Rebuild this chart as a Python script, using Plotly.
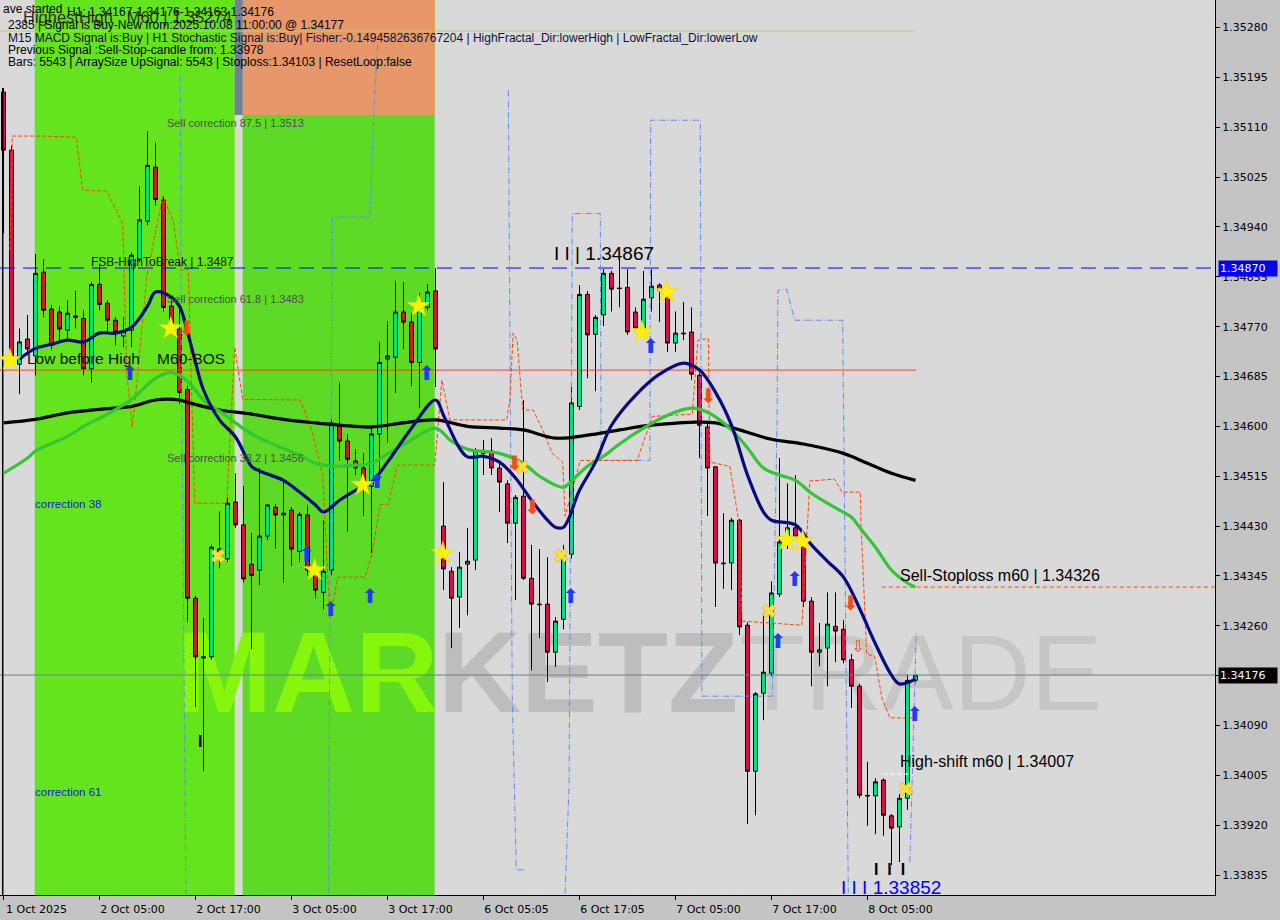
import plotly.graph_objects as go

# ---------------- data ----------------
tick_idx = [0, 12, 24, 36, 48, 60, 72, 84, 96, 108]
tick_text = ["1 Oct 2025", "2 Oct 05:00", "2 Oct 17:00", "3 Oct 05:00", "3 Oct 17:00",
             "6 Oct 05:05", "6 Oct 17:05", "7 Oct 05:00", "7 Oct 17:00", "8 Oct 05:00"]
price_ticks = [1.33835, 1.33920, 1.34005, 1.34090, 1.34175, 1.34260, 1.34345, 1.34430, 1.34515,
               1.34600, 1.34685, 1.34770, 1.34855, 1.34940, 1.35025, 1.35110, 1.35195, 1.35280]

open_ = [1.35170, 1.35071, 1.34706, 1.34749, 1.34720, 1.34863, 1.34800, 1.34795, 1.34764, 1.34786,
         1.34784, 1.34698, 1.34842, 1.34810, 1.34781, 1.34754, 1.34764, 1.34885, 1.34950, 1.35042,
         1.34986, 1.34805, 1.34766, 1.34663, 1.34307, 1.34205, 1.34207, 1.34391, 1.34374, 1.34471,
         1.34432, 1.34365, 1.34355, 1.34413, 1.34462, 1.34449, 1.34457, 1.34387, 1.34449, 1.34355,
         1.34317, 1.34355, 1.34602, 1.34575, 1.34541, 1.34529, 1.34498, 1.34587, 1.34715, 1.34718,
         1.34795, 1.34778, 1.34709, 1.34803, 1.34831, 1.34430, 1.34353, 1.34309, 1.34365, 1.34372,
         1.34554, 1.34558, 1.34529, 1.34502, 1.34435, 1.34481, 1.34341, 1.34297, 1.34297, 1.34215,
         1.34271, 1.34382, 1.34634, 1.34825, 1.34757, 1.34790, 1.34861, 1.34836, 1.34837, 1.34795,
         1.34767, 1.34819, 1.34841, 1.34829, 1.34742, 1.34759, 1.34761, 1.34687, 1.34599, 1.34531,
         1.34367, 1.34367, 1.34440, 1.34261, 1.34012, 1.34145, 1.34179, 1.34314, 1.34413, 1.34427,
         1.34413, 1.34302, 1.34215, 1.34222, 1.34259, 1.34254, 1.34202, 1.34157, 1.33971, 1.33970,
         1.33997, 1.33936, 1.33917, 1.33966, 1.34167]
high = [1.35177, 1.35079, 1.34767, 1.34790, 1.34894, 1.34885, 1.34807, 1.34805, 1.34815, 1.34831,
        1.34798, 1.34846, 1.34875, 1.34815, 1.34786, 1.34786, 1.34897, 1.35009, 1.35103, 1.35084,
        1.34992, 1.34815, 1.34805, 1.34670, 1.34311, 1.34273, 1.34398, 1.34455, 1.34479, 1.34520,
        1.34498, 1.34418, 1.34529, 1.34467, 1.34467, 1.34507, 1.34462, 1.34454, 1.34466, 1.34362,
        1.34440, 1.34612, 1.34675, 1.34587, 1.34561, 1.34554, 1.34599, 1.34744, 1.34779, 1.34848,
        1.34846, 1.34793, 1.34827, 1.34842, 1.34870, 1.34505, 1.34360, 1.34386, 1.34427, 1.34563,
        1.34577, 1.34580, 1.34542, 1.34508, 1.34483, 1.34645, 1.34398, 1.34391, 1.34377, 1.34275,
        1.34398, 1.34667, 1.34841, 1.34831, 1.34790, 1.34868, 1.34865, 1.34885, 1.34868, 1.34803,
        1.34865, 1.34868, 1.34844, 1.34839, 1.34796, 1.34812, 1.34803, 1.34692, 1.34604, 1.34532,
        1.34452, 1.34444, 1.34442, 1.34266, 1.34147, 1.34282, 1.34336, 1.34546, 1.34503, 1.34517,
        1.34418, 1.34309, 1.34265, 1.34317, 1.34317, 1.34270, 1.34212, 1.34161, 1.34028, 1.34000,
        1.34000, 1.33939, 1.33973, 1.34177, 1.34176]
low = [1.34929, 1.34709, 1.34655, 1.34721, 1.34687, 1.34786, 1.34730, 1.34745, 1.34749, 1.34767,
       1.34687, 1.34675, 1.34798, 1.34761, 1.34738, 1.34735, 1.34735, 1.34880, 1.34943, 1.34977,
       1.34796, 1.34764, 1.34638, 1.34266, 1.34121, 1.34012, 1.34202, 1.34358, 1.34369, 1.34427,
       1.34334, 1.34220, 1.34329, 1.34406, 1.34392, 1.34334, 1.34362, 1.34369, 1.34346, 1.34307,
       1.34288, 1.34346, 1.34542, 1.34421, 1.34517, 1.34447, 1.34384, 1.34508, 1.34573, 1.34657,
       1.34732, 1.34669, 1.34631, 1.34798, 1.34667, 1.34321, 1.34222, 1.34256, 1.34278, 1.34355,
       1.34517, 1.34517, 1.34454, 1.34401, 1.34304, 1.34338, 1.34184, 1.34239, 1.34164, 1.34190,
       1.34254, 1.34375, 1.34628, 1.34682, 1.34660, 1.34771, 1.34796, 1.34803, 1.34756, 1.34761,
       1.34756, 1.34796, 1.34778, 1.34727, 1.34727, 1.34747, 1.34679, 1.34546, 1.34447, 1.34292,
       1.34323, 1.34321, 1.34244, 1.33922, 1.33937, 1.34099, 1.34174, 1.34309, 1.34391, 1.34406,
       1.34292, 1.34157, 1.34191, 1.34157, 1.34198, 1.34196, 1.34120, 1.33966, 1.33919, 1.33905,
       1.33902, 1.33852, 1.33857, 1.33946, 1.34163]
close = [1.35071, 1.34720, 1.34744, 1.34732, 1.34861, 1.34798, 1.34738, 1.34766, 1.34793, 1.34788,
         1.34698, 1.34842, 1.34808, 1.34781, 1.34761, 1.34762, 1.34892, 1.34952, 1.35045, 1.34987,
         1.34803, 1.34776, 1.34658, 1.34307, 1.34207, 1.34207, 1.34394, 1.34374, 1.34469, 1.34432,
         1.34340, 1.34346, 1.34413, 1.34466, 1.34449, 1.34452, 1.34391, 1.34450, 1.34355, 1.34321,
         1.34353, 1.34606, 1.34575, 1.34544, 1.34529, 1.34502, 1.34587, 1.34709, 1.34720, 1.34795,
         1.34778, 1.34709, 1.34803, 1.34829, 1.34732, 1.34357, 1.34307, 1.34360, 1.34370, 1.34559,
         1.34559, 1.34529, 1.34505, 1.34435, 1.34479, 1.34341, 1.34297, 1.34296, 1.34215, 1.34268,
         1.34379, 1.34640, 1.34825, 1.34756, 1.34786, 1.34861, 1.34834, 1.34835, 1.34761, 1.34767,
         1.34817, 1.34839, 1.34832, 1.34742, 1.34759, 1.34758, 1.34689, 1.34602, 1.34529, 1.34367,
         1.34366, 1.34440, 1.34258, 1.34012, 1.34144, 1.34181, 1.34316, 1.34403, 1.34427, 1.34411,
         1.34302, 1.34215, 1.34219, 1.34263, 1.34251, 1.34202, 1.34157, 1.33971, 1.33970, 1.33994,
         1.33937, 1.33915, 1.33966, 1.34167, 1.34176]

navy_idx = [2, 4, 6, 8, 10, 12, 14, 16, 18, 19, 21, 22, 23, 24, 25, 27, 29, 31, 32, 35,
            37, 39, 40, 42, 44, 46, 48, 51, 54, 55, 57, 58, 60, 62, 64, 66, 68, 69, 70, 72,
            74, 76, 79, 82, 85, 87, 89, 91, 93, 95, 96, 99, 101, 103, 105, 107, 109, 111, 112, 114]
navy_val = [1.34715, 1.34733, 1.34740, 1.34747, 1.34744, 1.34759, 1.34759, 1.34769, 1.34805, 1.34829,
            1.34820, 1.34805, 1.34761, 1.34709, 1.34662, 1.34611, 1.34582, 1.34532, 1.34524, 1.34508,
            1.34488, 1.34466, 1.34454, 1.34474, 1.34491, 1.34505, 1.34539, 1.34597, 1.34645, 1.34619,
            1.34563, 1.34548, 1.34549, 1.34539, 1.34512, 1.34474, 1.34440, 1.34428, 1.34428, 1.34491,
            1.34539, 1.34602, 1.34653, 1.34689, 1.34708, 1.34696, 1.34658, 1.34602, 1.34517, 1.34454,
            1.34440, 1.34432, 1.34398, 1.34370, 1.34343, 1.34290, 1.34229, 1.34176, 1.34161, 1.34169]

green_idx = [0, 3, 4, 8, 10, 13, 16, 19, 21, 23, 25, 27, 29, 31, 34, 37, 39, 41, 44, 46,
             48, 51, 54, 56, 58, 62, 65, 67, 70, 71, 73, 75, 77, 80, 83, 86, 88, 91, 93, 95,
             97, 99, 101, 104, 106, 107, 109, 111, 113, 114]
green_val = [1.34520, 1.34546, 1.34558, 1.34583, 1.34600, 1.34621, 1.34646, 1.34682, 1.34692, 1.34677,
             1.34645, 1.34626, 1.34606, 1.34587, 1.34568, 1.34551, 1.34537, 1.34532, 1.34534, 1.34537,
             1.34553, 1.34577, 1.34597, 1.34575, 1.34561, 1.34554, 1.34537, 1.34515, 1.34496, 1.34507,
             1.34532, 1.34549, 1.34570, 1.34597, 1.34619, 1.34631, 1.34624, 1.34594, 1.34563, 1.34529,
             1.34517, 1.34508, 1.34486, 1.34461, 1.34445, 1.34428, 1.34394, 1.34355, 1.34333, 1.34326]

black_idx = [0, 4, 8, 12, 16, 19, 22, 23, 27, 31, 35, 39, 44, 46, 50, 54, 58, 62, 65, 69,
             73, 77, 81, 86, 89, 92, 96, 100, 105, 108, 111, 114]
black_val = [1.34606, 1.34612, 1.34623, 1.34629, 1.34634, 1.34645, 1.34645, 1.34641, 1.34628, 1.34621,
             1.34612, 1.34606, 1.34600, 1.34599, 1.34606, 1.34611, 1.34600, 1.34597, 1.34594, 1.34580,
             1.34585, 1.34594, 1.34602, 1.34607, 1.34606, 1.34594, 1.34578, 1.34570, 1.34554, 1.34537,
             1.34520, 1.34508]

orange_x = [0.8, 1.1, 4.9, 9.1, 9.9, 12.9, 14.9, 15.4, 16.1, 16.7, 17.9, 19.9, 21.2, 22.1, 23.1,
            23.9, 27.9, 28.9, 29.9, 37.1, 38.6, 39.9, 40.8, 41.8, 45.2, 46.1, 46.4, 47.1, 48.1, 49.2,
            53.9, 54.8, 55.8, 62.9, 63.3, 63.7, 64.2, 64.9, 66.2, 67.4, 68.6, 69.9, 70.2, 72.1, 79.2,
            81.1, 86.1, 86.8, 88.1, 88.3, 90.8, 92.1, 92.3, 99.8, 100.8, 103.9, 104.8, 107.1, 107.2,
            107.9, 108.9, 109.8, 110.8, 113.9]
orange_y = [1.34900, 1.35095, 1.35095, 1.35093, 1.35003, 1.35001, 1.34946, 1.34691, 1.34599, 1.34679,
            1.34856, 1.34992, 1.34952, 1.34866, 1.34868, 1.34469, 1.34469, 1.34735, 1.34646, 1.34645,
            1.34590, 1.34517, 1.34273, 1.34343, 1.34343, 1.34384, 1.34411, 1.34467, 1.34467, 1.34534,
            1.34534, 1.34679, 1.34611, 1.34611, 1.34645, 1.34759, 1.34747, 1.34628, 1.34628, 1.34594,
            1.34554, 1.34539, 1.34447, 1.34542, 1.34542, 1.34617, 1.34621, 1.34747, 1.34750, 1.34539,
            1.34532, 1.34421, 1.34268, 1.34261, 1.34507, 1.34510, 1.34488, 1.34488, 1.34432, 1.34212,
            1.34208, 1.34137, 1.34103, 1.34103]

blue_x = [22.1, 22.2, 22.8, None, 40.6, 41.1, 45.8, 46.3, 46.8, None, 63.1, 63.6, 64.1, 65.2, None,
          70.2, 70.7, 71.1, 74.6, 74.7, 80.8, 80.9, 87.1, 87.3, 96.1, 96.7, 96.8, 97.9, 98.9, 104.9,
          105.6, None, 113.3, 114.1]
blue_y = [1.35199, 1.34781, 1.33804, None, 1.33804, 1.34957, 1.34957, 1.35139, 1.35258, None,
          1.35173, 1.34133, 1.33844, 1.33844, None, 1.33804, 1.33990, 1.34963, 1.34963, 1.34542,
          1.34542, 1.35122, 1.35122, 1.34140, 1.34140, 1.34616, 1.34832, 1.34834, 1.34781, 1.34781,
          1.33804, None, 1.33857, 1.34251]

star_x = [0.8, 20.9, 38.9, 44.9, 51.9, 54.9, 79.8, 82.9, 97.9, 99.9]
star_y = [1.34713, 1.34767, 1.34355, 1.34500, 1.34805, 1.34384, 1.34761, 1.34829, 1.34406, 1.34404]
cross_x = [26.8, 64.8, 69.7, 95.7, 112.8]
cross_y = [1.34379, 1.34531, 1.34380, 1.34285, 1.33982]
up_x = [15.8, 37.9, 40.9, 45.8, 46.7, 52.9, 70.9, 80.9, 96.8, 98.9, 113.9]
up_y = [1.34687, 1.34379, 1.34285, 1.34307, 1.34503, 1.34687, 1.34307, 1.34733, 1.34230, 1.34336, 1.34106]
down_x = [22.9, 63.9, 66.1, 88.1, 105.9]
down_y = [1.34764, 1.34534, 1.34459, 1.34648, 1.34295]
hollow_x = [106.8]
hollow_y = [1.34222]

fsb_level = 1.34870
bos_level = 1.34696
current_price = 1.34176
highest_high = 1.35274
sell_stoploss = 1.34326
high_shift = 1.34007

zones = [(3.9, 28.9), (29.9, 53.9)]
gap_zone = (28.9, 29.9)
top_block_level = 1.35131

# ---------------- layout constants ----------------
X_MIN, X_MAX = -0.44, 151.44
Y_MIN, Y_MAX = 1.33801, 1.35327
PLOT_W, PLOT_H = 1215, 895
LAST = len(open_) - 1
idx = list(range(len(open_)))

fig = go.Figure()

# ---- watermark in base subplot (drawn under everything else) ----
wm_y = 1.34162
fig.add_trace(go.Scatter(x=[21.6], y=[wm_y], mode="text", text=["<b>MAR</b>"],
                         textposition="middle right",
                         textfont=dict(family="Liberation Sans", size=115, color="#86F70C"),
                         hoverinfo="skip", showlegend=False))
fig.add_trace(go.Scatter(x=[54.3], y=[wm_y], mode="text", text=["<b>KETZ</b>"],
                         textposition="middle right",
                         textfont=dict(family="Liberation Sans", size=115, color="#BDBDBD"),
                         hoverinfo="skip", showlegend=False))
fig.add_trace(go.Scatter(x=[92.0], y=[wm_y], mode="text", text=["TRADE"],
                         textposition="middle right",
                         textfont=dict(family="Liberation Sans", size=107, color="#C6C6C6"),
                         hoverinfo="skip", showlegend=False))

def line(x, y, color, width=1, dash="solid", shape="linear"):
    fig.add_trace(go.Scatter(x=x, y=y, mode="lines", xaxis="x2", yaxis="y2",
                             line=dict(color=color, width=width, dash=dash, shape=shape),
                             hoverinfo="skip", showlegend=False, connectgaps=False))

# ---- level lines ----
line([X_MIN, LAST - 0.2], [highest_high, highest_high], "#A6DC48", 1)
line([X_MIN, X_MAX], [fsb_level, fsb_level], "#0000FF", 1, "15px,8px")
line([X_MIN, LAST + 0.1], [bos_level, bos_level], "#FF4500", 1)
line([X_MIN, X_MAX], [current_price, current_price], "#6E7F90", 1)
line([109.8, X_MAX], [sell_stoploss, sell_stoploss], "#FF4500", 1, "4px,3px")
line([110.0, 113.7], [high_shift, high_shift], "#FFFFFF", 1, "4px,3px")
line([-0.1, -0.1], [Y_MIN, high[0]], "#000000", 1.5)

# ---- stepped indicator paths ----
line(blue_x, blue_y, "#5B8EF0", 1, "6px,2px,1px,2px")
line(orange_x, orange_y, "#FF4500", 1, "4px,2px")

# ---- candles ----
fig.add_trace(go.Candlestick(
    x=idx, open=open_, high=high, low=low, close=close, xaxis="x2", yaxis="y2",
    increasing=dict(line=dict(color="#000000", width=1), fillcolor="#00E87C"),
    decreasing=dict(line=dict(color="#000000", width=1), fillcolor="#DC143C"),
    whiskerwidth=0, hoverinfo="skip", showlegend=False))

# ---- moving averages ----
line(black_idx, black_val, "#000000", 3.2, shape="spline")
line(green_idx, green_val, "#34C534", 3.2, shape="spline")
line(navy_idx, navy_val, "#0A0A80", 3.2, shape="spline")

# ---- markers ----
fig.add_trace(go.Scatter(x=star_x, y=star_y, mode="markers", xaxis="x2", yaxis="y2",
                         marker=dict(symbol="star", size=17, color="#FFF200",
                                     line=dict(color="#E8D800", width=0.5)),
                         hoverinfo="skip", showlegend=False))
fig.add_trace(go.Scatter(x=cross_x, y=cross_y, mode="markers", xaxis="x2", yaxis="y2",
                         marker=dict(symbol="x", size=12, color="#F4E23A",
                                     line=dict(color="#F0A030", width=0.6)),
                         hoverinfo="skip", showlegend=False))
fig.add_trace(go.Scatter(x=up_x, y=up_y, mode="text", xaxis="x2", yaxis="y2",
                         text=["⬆"] * len(up_x), textposition="middle center",
                         textfont=dict(family="DejaVu Sans", size=20, color="#1E3CFF"),
                         hoverinfo="skip", showlegend=False))
fig.add_trace(go.Scatter(x=down_x, y=down_y, mode="text", xaxis="x2", yaxis="y2",
                         text=["⬇"] * len(down_x), textposition="middle center",
                         textfont=dict(family="DejaVu Sans", size=20, color="#FF4A10"),
                         hoverinfo="skip", showlegend=False))
fig.add_trace(go.Scatter(x=hollow_x, y=hollow_y, mode="text", xaxis="x2", yaxis="y2",
                         text=["⇩"], textposition="middle center",
                         textfont=dict(family="DejaVu Sans", size=16, color="#FF4A10"),
                         hoverinfo="skip", showlegend=False))

# ---- background shapes ----
shapes = []
zone_colors = ["#64E41C", "#5CDA26"]
for (a, b), c in zip(zones, zone_colors):
    shapes.append(dict(type="rect", xref="x", yref="paper", x0=a, x1=b, y0=0, y1=1,
                       fillcolor=c, line=dict(width=0), layer="below"))
shapes.append(dict(type="rect", xref="x", yref="y", x0=zones[1][0], x1=zones[1][1],
                   y0=top_block_level, y1=Y_MAX, fillcolor="#E8976A", line=dict(width=0), layer="below"))
shapes.append(dict(type="rect", xref="x", yref="y", x0=gap_zone[0], x1=gap_zone[1],
                   y0=top_block_level, y1=Y_MAX, fillcolor="#6F8296", line=dict(width=0), layer="below"))

# ---- annotations ----
ann = []
def dtext(x, y, text, size=12, color="#000000", family="Liberation Sans"):
    ann.append(dict(x=x, y=y, xref="x", yref="y", text=text, showarrow=False,
                    xanchor="left", yanchor="middle",
                    font=dict(family=family, size=size, color=color)))

dtext(20.2, 1.35117, "Sell correction 87.5 | 1.3513", 11, "#4A4F4A")
dtext(10.7, 1.34880, "FSB-HighToBreak | 1.3487", 12, "#111111")
dtext(20.2, 1.34817, "Sell correction 61.8 | 1.3483", 11, "#4A4F4A")
dtext(2.7, 1.34716, "Low before High    M60-BOS", 15.5, "#111111")
dtext(20.2, 1.34546, "Sell correction 38.2 | 1.3456", 11, "#4A4F4A")
dtext(3.7, 1.34467, "correction 38", 11.5, "#1414E6")
dtext(3.7, 1.33977, "correction 61", 11.5, "#1414E6")
dtext(68.6, 1.34895, "I I | 1.34867", 19, "#000000")
dtext(111.8, 1.34346, "Sell-Stoploss m60 | 1.34326", 16, "#000000")
dtext(111.8, 1.34028, "High-shift m60 | 1.34007", 16, "#000000")
dtext(104.4, 1.33813, "I I I 1.33852", 19, "#0000FF")
dtext(108.6, 1.33844, "<b>I  I  I</b>", 16, "#000000")
dtext(24.0, 1.34062, "<b>I</b>", 16, "#000000")

def ptext(px, py, text, size=12, color="#000000"):
    ann.append(dict(x=px / PLOT_W, y=1 - py / PLOT_H, xref="paper", yref="paper", text=text,
                    showarrow=False, xanchor="left", yanchor="middle",
                    font=dict(family="Liberation Sans", size=size, color=color)))

ptext(1, 9, "ave started")
ptext(65, 12, "H1: 1.34167-1.34176-1.34163 1.34176")
ptext(21, 17, "HighestHigh   M60 | 1.35274", 16.5, "#2E2E2E")
ptext(6, 25, "2385 | Signal is Buy-New from:2025.10.08 11:00:00 @ 1.34177")
ptext(6, 38, "M15 MACD Signal is:Buy | H1 Stochastic Signal is:Buy| Fisher:-0.1494582636767204 | "
             "HighFractal_Dir:lowerHigh | LowFractal_Dir:lowerLow", 12, "#10103A")
ptext(6, 50, "Previous Signal :Sell-Stop-candle from: 1.33978")
ptext(6, 62, "Bars: 5543 | ArraySize UpSignal: 5543 | Stoploss:1.34103 | ResetLoop:false")

for lvl, bg in [(fsb_level, "#0000FF"), (current_price, "#000000")]:
    ann.append(dict(x=1, xref="paper", y=lvl, yref="y", text=f"{lvl:.5f}", showarrow=False,
                    xanchor="left", yanchor="middle", xshift=3, width=56, align="left",
                    bgcolor=bg, borderpad=1,
                    font=dict(family="DejaVu Sans", size=11, color="#FFFFFF")))

fig.update_layout(
    width=1280, height=920,
    margin=dict(l=0, r=65, t=0, b=25),
    paper_bgcolor="#C4C4C4", plot_bgcolor="#D9D9D9",
    showlegend=False, hovermode=False,
    shapes=shapes, annotations=ann,
    xaxis=dict(range=[X_MIN, X_MAX], tickvals=tick_idx, ticktext=tick_text,
               showgrid=False, zeroline=False, showline=True, linecolor="#000000", linewidth=1,
               ticks="outside", ticklen=4, tickcolor="#000000", ticklabelshift=33,
               tickfont=dict(family="DejaVu Sans", size=11, color="#000000"),
               rangeslider=dict(visible=False), fixedrange=True),
    yaxis=dict(range=[Y_MIN, Y_MAX], side="right", tickvals=price_ticks,
               ticktext=[f"{v:.5f}" for v in price_ticks],
               showgrid=False, zeroline=False, showline=True, linecolor="#000000", linewidth=1,
               ticks="outside", ticklen=4, tickcolor="#000000",
               tickfont=dict(family="DejaVu Sans", size=11, color="#000000"), fixedrange=True),
    xaxis2=dict(range=[X_MIN, X_MAX], overlaying="x", anchor="y2", visible=False,
                rangeslider=dict(visible=False), fixedrange=True),
    yaxis2=dict(range=[Y_MIN, Y_MAX], overlaying="y", anchor="x2", side="right", visible=False,
                fixedrange=True),
)

fig.write_html("out.html", config={"displayModeBar": False},
               post_script="document.body.style.margin='0px';document.body.style.overflow='hidden';")
